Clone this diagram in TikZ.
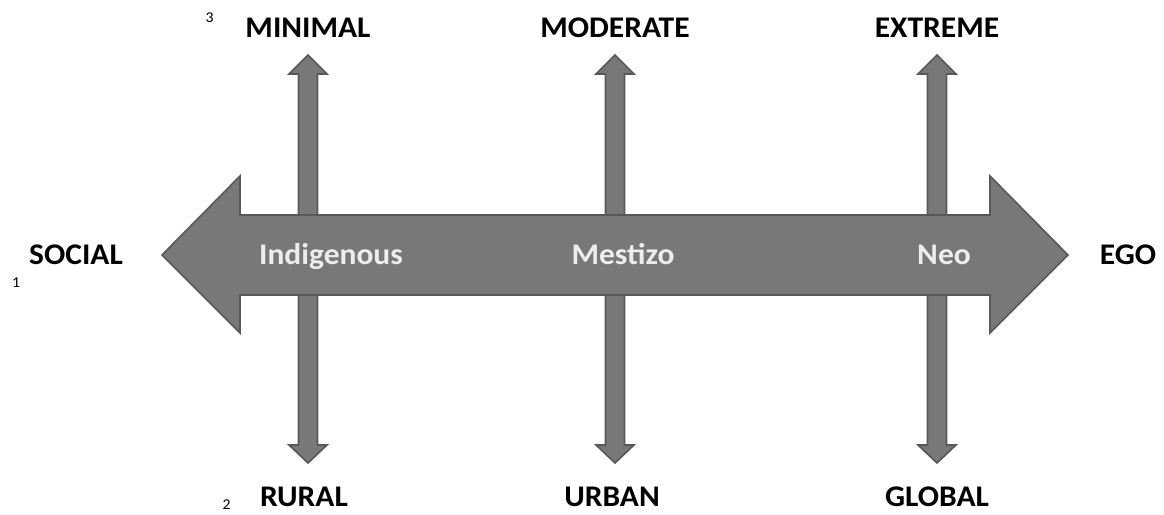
\documentclass[tikz,border=0pt]{standalone}
\usepackage{fontspec}
\setmainfont{Carlito}[FakeStretch=1.05]
\begin{document}
\begin{tikzpicture}[x=1pt,y=-1pt,
  shp/.style={fill=arrowfill,draw=arrowedge,line width=1.6pt,line join=miter},
  lbl/.style={font=\fontsize{30}{32}\selectfont\bfseries,text=black,inner sep=0pt,anchor=base},
  inlbl/.style={font=\fontsize{30}{32}\selectfont\bfseries,text=white!93!black,inner sep=0pt,anchor=base},
  num/.style={font=\fontsize{15}{17}\selectfont,text=black,inner sep=0pt,anchor=base}]
\definecolor{arrowfill}{HTML}{787878}
\definecolor{arrowedge}{HTML}{585858}
\useasboundingbox (0,0) rectangle (1164,514);
% vertical arrows
\foreach \c in {308,615,937}{
  \draw[shp] (\c-9.5,217) -- (\c-9.5,74) -- (\c-19,74) -- (\c,55) -- (\c+19,74) -- (\c+9.5,74) -- (\c+9.5,217) -- cycle;
  \draw[shp] (\c-9.5,293) -- (\c-9.5,445) -- (\c-19,445) -- (\c,463) -- (\c+19,445) -- (\c+9.5,445) -- (\c+9.5,293) -- cycle;
}
% main double arrow
\draw[shp] (162,255) -- (240,176) -- (240,215) -- (990,215) -- (990,176) -- (1068,255) -- (990,333) -- (990,295) -- (240,295) -- (240,333) -- cycle;
% labels
\node[inlbl] (ind) at (331,264) {Indigenous};
\node[inlbl] (mes) at (623,264) {Mestizo};
\node[inlbl] (neo) at (944,264) {Neo};
\node[lbl] (social) at (76,264) {SOCIAL};
\node[lbl] (ego) at (1128,264) {EGO};
\node[lbl] (minimal) at (308,37) {MINIMAL};
\node[lbl] (moderate) at (615,37) {MODERATE};
\node[lbl] (extreme) at (937,37) {EXTREME};
\node[lbl] (rural) at (304,506) {RURAL};
\node[lbl] (urban) at (612,506) {URBAN};
\node[lbl] (global) at (937,506) {GLOBAL};
\node[num] (n1) at (16,287) {1};
\node[num] (n2) at (226.5,509) {2};
\node[num] (n3) at (209.5,23) {3};
\end{tikzpicture}
\end{document}
